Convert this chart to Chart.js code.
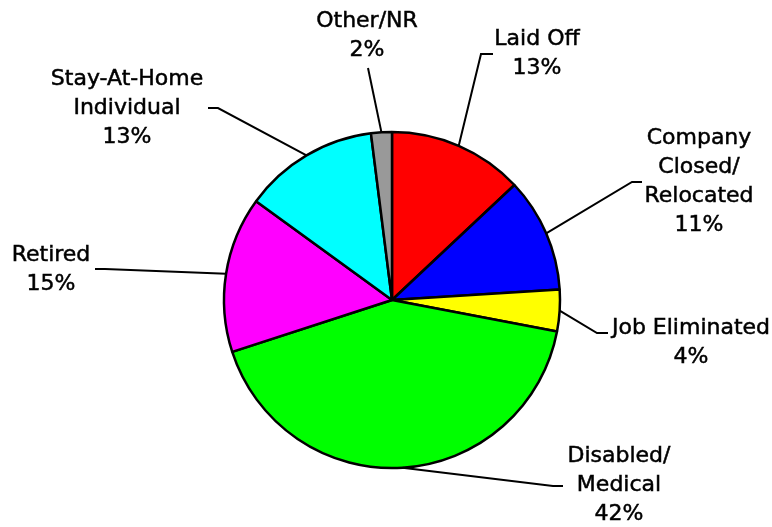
<!DOCTYPE html>
<html>
<head>
<meta charset="utf-8">
<script src="https://cdn.jsdelivr.net/npm/chart.js@4/dist/chart.umd.min.js"></script>
<style>
  html, body { margin: 0; padding: 0; background: #ffffff; }
  #wrap { width: 772px; height: 527px; }
</style>
</head>
<body>
<div id="wrap"><canvas id="c" width="772" height="527"></canvas></div>
<script>
// ---- data ----
const categories = [
  ['Laid Off'],
  ['Company', 'Closed/', 'Relocated'],
  ['Job Eliminated'],
  ['Disabled/', 'Medical'],
  ['Retired'],
  ['Stay-At-Home', 'Individual'],
  ['Other/NR']
];
const percentages = [13, 11, 4, 42, 15, 13, 2];
const sliceColors = ['#FF0000', '#0000FF', '#FFFF00', '#00FF00', '#FF00FF', '#00FFFF', '#999999'];

// ---- label layout (style: where each label sits) ----
const labelLayout = [
  { cx: 537, y0: 39,  elbow: [481, 54],  end: [493, 54] },
  { cx: 699, y0: 138, elbow: [632, 182], end: [642, 182] },
  { cx: 691, y0: 328, elbow: [597, 333], end: [608, 333] },
  { cx: 619, y0: 456, elbow: [553, 486], end: [563, 486] },
  { cx: 51,  y0: 255, elbow: [105, 269], end: [95, 269] },
  { cx: 127, y0: 79,  elbow: [218, 108], end: [208, 108] },
  { cx: 367, y0: 21,  elbow: [368, 68],  end: [368, 68] }
];
const lineGap = 29;
const labelFont = '22px "DejaVu Sans", Verdana, sans-serif';

const leaderLabels = {
  id: 'leaderLabels',
  afterDatasetsDraw(chart) {
    const ctx = chart.ctx;
    const meta = chart.getDatasetMeta(0);
    ctx.save();
    meta.data.forEach((arc, i) => {
      const mid = (arc.startAngle + arc.endAngle) / 2;
      const r = arc.outerRadius;
      const px = arc.x + Math.cos(mid) * r;
      const py = arc.y + Math.sin(mid) * r;
      const L = labelLayout[i];
      ctx.strokeStyle = '#000';
      ctx.lineWidth = 2;
      ctx.beginPath();
      ctx.moveTo(px, py);
      ctx.lineTo(L.elbow[0], L.elbow[1]);
      ctx.lineTo(L.end[0], L.end[1]);
      ctx.stroke();
      const lines = categories[i].concat([percentages[i] + '%']);
      ctx.fillStyle = '#000';
      ctx.font = labelFont;
      ctx.textAlign = 'center';
      ctx.textBaseline = 'middle';
      ctx.lineWidth = 0.5;
      lines.forEach((t, k) => {
        ctx.fillText(t, L.cx, L.y0 + k * lineGap);
        ctx.strokeText(t, L.cx, L.y0 + k * lineGap);
      });
    });
    ctx.restore();
  }
};

new Chart(document.getElementById('c'), {
  type: 'pie',
  data: {
    labels: categories.map(c => c.join(' ')),
    datasets: [{
      data: percentages,
      backgroundColor: sliceColors,
      borderColor: '#000000',
      borderWidth: 2.5,
      hoverOffset: 0
    }]
  },
  options: {
    responsive: false,
    animation: false,
    radius: 168,
    rotation: 0,
    layout: { padding: { left: 224, right: 212, top: 132, bottom: 59 } },
    plugins: {
      legend: { display: false },
      tooltip: { enabled: false }
    }
  },
  plugins: [leaderLabels]
});
</script>
</body>
</html>
